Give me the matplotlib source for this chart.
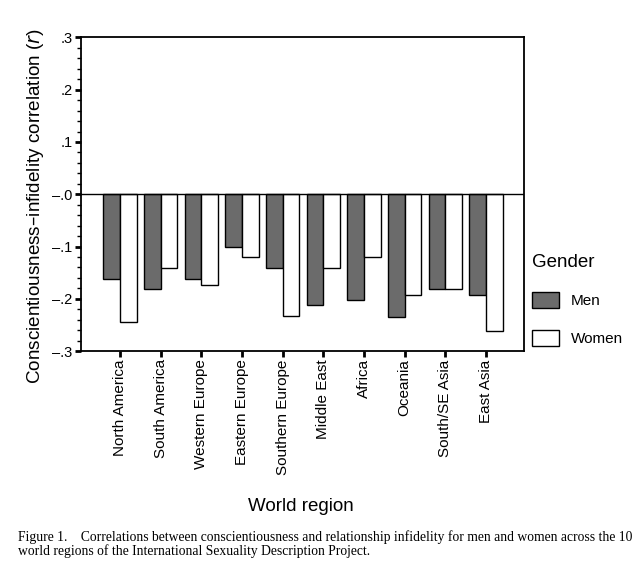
import numpy as np
import matplotlib.pyplot as plt
from matplotlib.patches import Patch
from matplotlib.ticker import MultipleLocator

# Datos
regiones = ["North America", "South America", "Western Europe", "Eastern Europe",
            "Southern Europe", "Middle East", "Africa", "Oceania",
            "South/SE Asia", "East Asia"]
hombres = [-0.163, -0.181, -0.163, -0.101, -0.142, -0.212, -0.202, -0.234, -0.181, -0.192]
mujeres = [-0.244, -0.142, -0.173, -0.121, -0.233, -0.142, -0.121, -0.192, -0.181, -0.262]
yticks = [0.3, 0.2, 0.1, 0.0, -0.1, -0.2, -0.3]
ytick_labels = [".3", ".2", ".1", "\u2013.0", "\u2013.1", "\u2013.2", "\u2013.3"]

plt.rcParams['font.family'] = ['Liberation Sans', 'DejaVu Sans']

fig = plt.figure(figsize=(6.4, 5.68), dpi=100)
ax = fig.add_axes([0.1266, 0.382, 0.692, 0.552])

x = np.arange(len(regiones))
w = 0.41
ax.bar(x - w / 2, hombres, w, color="#6b6b6b", edgecolor="black", linewidth=1.0)
ax.bar(x + w / 2, mujeres, w, color="white", edgecolor="black", linewidth=1.0)
ax.axhline(0, color="black", linewidth=1.0)

ax.set_xlim(-0.96, 9.93)
ax.set_ylim(-0.3, 0.3)
ax.set_yticks(yticks)
ax.set_yticklabels(ytick_labels, fontsize=10.5)
ax.yaxis.set_minor_locator(MultipleLocator(0.02))
ax.tick_params(axis='y', which='major', length=4, width=2, direction='out', pad=2)
ax.tick_params(axis='y', which='minor', length=3, width=1, direction='out')
ax.set_xticks(x)
ax.set_xticklabels(regiones, rotation=90, fontsize=11)
ax.tick_params(axis='x', length=4, width=2, direction='out', pad=2)
for s in ax.spines.values():
    s.set_linewidth(1.3)

ax.set_ylabel("Conscientiousness\u2013infidelity correlation ($\\it{r}$)", fontsize=13.6)
ax.yaxis.set_label_coords(-0.078, 0.464)
fig.text(0.47, 0.108, "World region", fontsize=13.5, ha="center", va="center")

handles = [Patch(facecolor="#6b6b6b", edgecolor="black", label="Men"),
           Patch(facecolor="white", edgecolor="black", label="Women")]
leg = fig.legend(handles=handles, title="Gender", loc="upper left",
                 bbox_to_anchor=(0.81, 0.5775), frameon=False, fontsize=11,
                 title_fontsize=13.5, handlelength=1.77, handleheight=1.25,
                 labelspacing=1.4, handletextpad=0.78)
leg._legend_box.align = "left"

caption = ("Figure 1.    Correlations between conscientiousness and relationship infidelity for men and women across the 10\n"
           "world regions of the International Sexuality Description Project.")
fig.text(0.028, 0.042, caption, fontsize=9.85, family="Liberation Serif",
         ha="left", va="center", linespacing=1.05)

plt.savefig("out.png", dpi=100)
